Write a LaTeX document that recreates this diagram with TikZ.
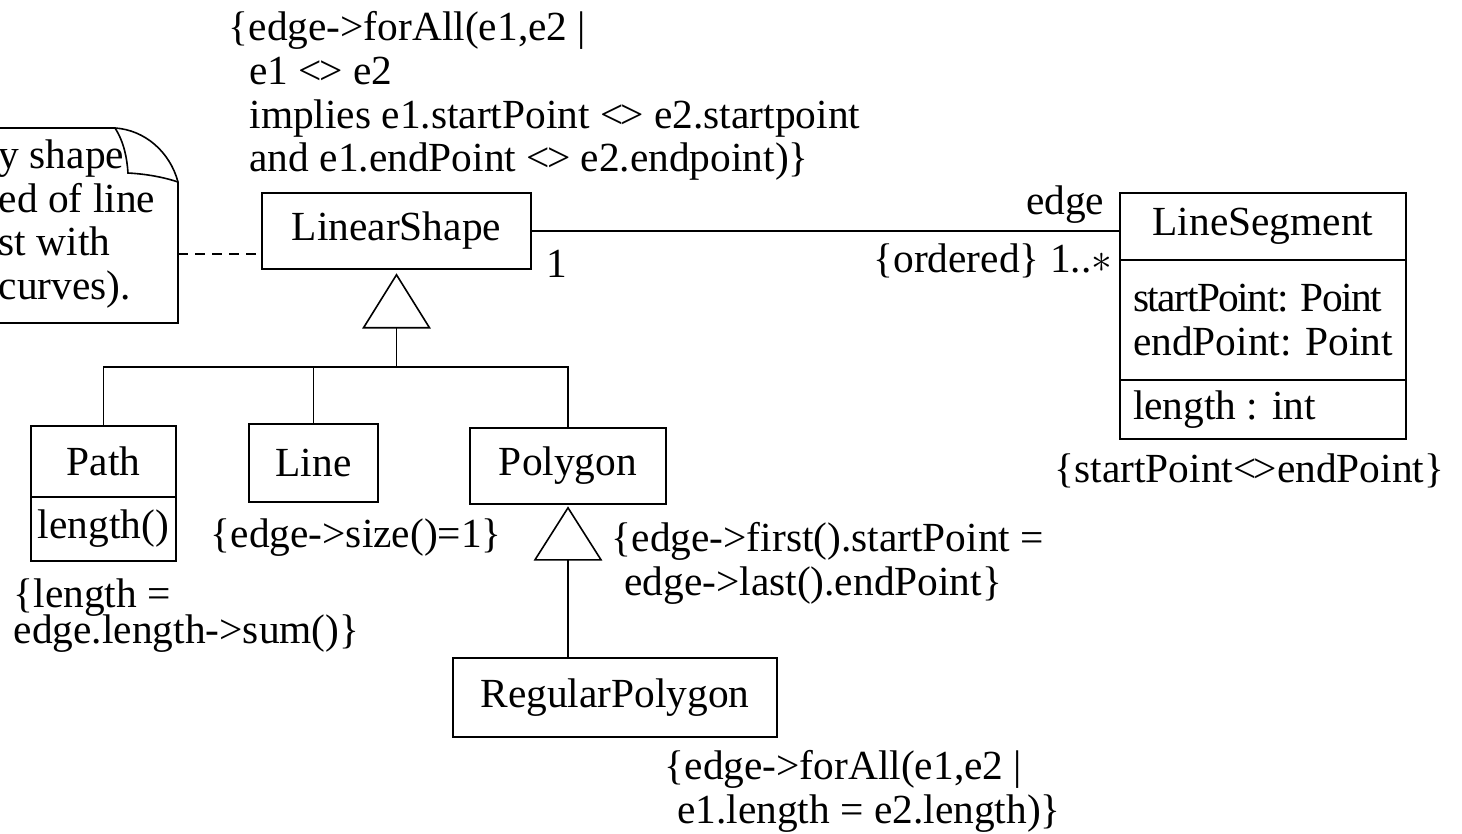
\documentclass[tikz,border=0pt]{standalone}
\usepackage{fontspec}
\setmainfont{Liberation Serif}
\newcommand{\neqsym}{<\kern-.07em>}
\begin{document}
\begin{tikzpicture}[x=0.5pt,y=-0.5pt,line width=0.8pt,
      every node/.style={font=\fontsize{20.7}{21.8}\selectfont,inner sep=0pt},
      cls/.style={draw},
      txt/.style={align=left,anchor=north west}]
      \useasboundingbox (0,0) rectangle (1462,834);
      \node[cls,minimum width=134.5pt,minimum height=38pt] (shape) at (396.5,231) {LinearShape};
      \node[cls,minimum width=143pt,minimum height=33.5pt] (seg) at (1263,226.5) {LineSegment};
      \node[cls,minimum width=143pt,minimum height=60pt] (segattr) at (1263,320) {};
      \node[cls,minimum width=143pt,minimum height=29.5pt] (segop) at (1263,409.5) {};
      \node[anchor=west,align=left] (attrs) at ([xshift=6.5pt]segattr.west) {{\addfontfeature{LetterSpace=-3.5}startPoint: Point}\\endPoint: Point};
      \node[anchor=west] (ops) at ([xshift=6.5pt]segop.west) {length : int};
      \node[cls,minimum width=72.5pt,minimum height=35.5pt] (path) at (103.5,461.5) {Path};
      \node[cls,minimum width=72.5pt,minimum height=32pt] (pathop) at (103.5,529) {length()};
      \node[cls,minimum width=64.5pt,minimum height=39pt] (line) at (313.5,463) {Line};
      \node[cls,minimum width=98pt,minimum height=38pt] (polygon) at (568,466) {Polygon};
      \node[cls,minimum width=162pt,minimum height=39.5pt] (regpoly) at (615,697.5) {RegularPolygon};

      \draw (-10,128) -- (115,128) .. controls (145,130) and (170,152) .. (178,182) -- (178,323) -- (-10,323);
      \draw (115,128) .. controls (124,142) and (127,158) .. (128,173) .. controls (146,174) and (163,177) .. (178,182);
      \node[txt] (note) at (-2,139) {y shape\\ed of line\\st with\\curves).};
      \coordinate (notept) at (178,254);
      \draw[dash pattern=on 5pt off 3.5pt] (notept) -- (notept -| shape.west);

      \draw (shape.east) -- (shape.east -| seg.west);
      \node[anchor=base] (one) at (557,278) {1};
      \node[anchor=base east] (role) at (1105,215) {edge};
      \node[anchor=base east] (mult) at (1113,273) {\{ordered\} 1..$\ast$};

      \coordinate (gen1) at ([yshift=-2.5pt]shape.south);
      \coordinate (bar) at (0,367);
      \draw (gen1) -- ++(-33,53) -- ++(66,0) -- cycle;
      \draw ([yshift=-26.5pt]gen1) -- (gen1 |- bar);
      \draw (path.north) -- (path.north |- bar) -- (polygon.north |- bar) -- (polygon.north);
      \draw (line.north) -- (line.north |- bar);
      \coordinate (gen2) at ([yshift=-1.5pt]polygon.south);
      \draw (gen2) -- ++(-33,52) -- ++(66,0) -- cycle;
      \draw ([yshift=-26pt]gen2) -- (gen2 |- regpoly.north);

      \node[txt] (inv1) at (228,11) {\{edge->forAll(e1,e2 |\\\hspace*{.5em}e1 \neqsym{} e2\\\hspace*{.5em}implies e1.startPoint \neqsym{} e2.startpoint\\\hspace*{.5em}and e1.endPoint \neqsym{} e2.endpoint)\}};
      \node[anchor=base west] (inv2) at (210,547) {\{edge->size()=1\}};
      \node[txt,font={\fontsize{20.7}{18}\selectfont\lineskiplimit=-20pt\relax}] (inv3) at (13,578) {\{length =\\edge.length->sum()\}};
      \node[txt] (inv4) at (611,522) {\{edge->first().startPoint =\\\hspace*{.3em}edge->last().endPoint\}};
      \node[txt] (inv5) at (664,750) {\{edge->forAll(e1,e2 |\\\hspace*{.3em}e1.length = e2.length)\}};
      \node[anchor=base east] (inv6) at (1445,482) {\{startPoint\neqsym endPoint\}};
    \end{tikzpicture}
\end{document}
